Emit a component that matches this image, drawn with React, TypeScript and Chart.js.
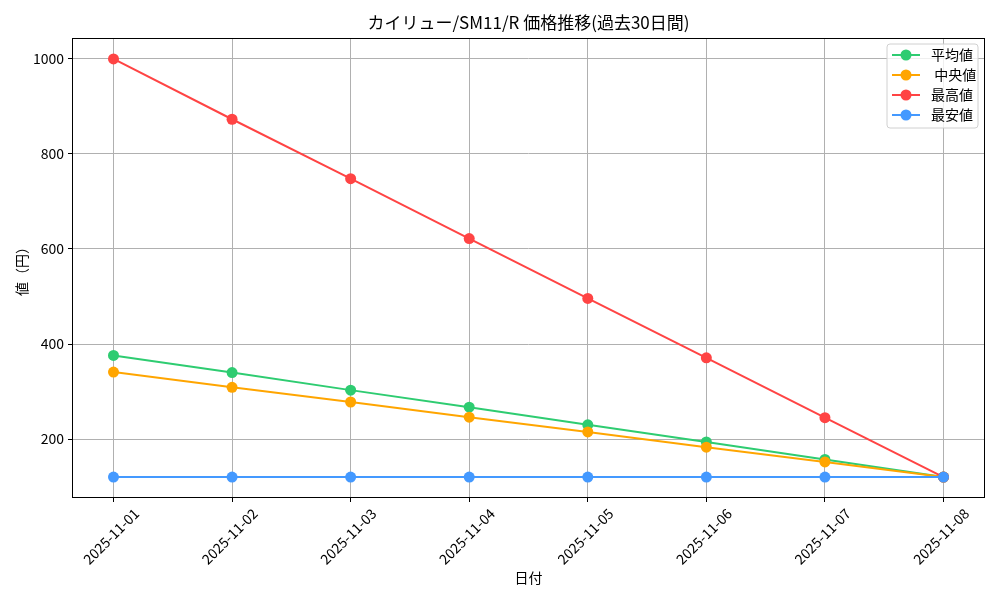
import React, { useEffect, useRef } from "react";
import { Chart, registerables } from "chart.js";

Chart.register(...registerables);

const dates = ["2025-11-01", "2025-11-02", "2025-11-03", "2025-11-04", "2025-11-05", "2025-11-06", "2025-11-07", "2025-11-08"];
const avgValues = [376, 340, 303, 267, 230, 194, 157, 120];
const medianValues = [341, 309, 278, 246, 215, 183, 152, 120];
const maxValues = [1000, 873, 748, 622, 496, 371, 245, 120];
const minValues = [120, 120, 120, 120, 120, 120, 120, 120];
const yTickValues = [200, 400, 600, 800, 1000];
const seriesLabels = ["平均値", " 中央値", "最高値", "最安値"];
const seriesColors = ["#2ecc71", "#ffa500", "#ff4444", "#4499ff"];

const FONT = "'Noto Sans CJK JP', 'Noto Sans', sans-serif";

const framePlugin = {
  id: "frame",
  afterDraw(chart: any) {
    const { ctx, chartArea } = chart;
    ctx.save();
    ctx.strokeStyle = "#000";
    ctx.lineWidth = 1;
    ctx.strokeRect(chartArea.left + 0.5, chartArea.top + 0.5, chartArea.right - chartArea.left - 1, chartArea.bottom - chartArea.top - 1);
    ctx.restore();
  },
};

const legendPlugin = {
  id: "innerLegend",
  afterDraw(chart: any) {
    const { ctx, chartArea } = chart;
    const ds = chart.data.datasets;
    const w = 91;
    const rowH = 20;
    const h = 11 + rowH * (ds.length - 1) + 13;
    const left = chartArea.right - 7 - w;
    const top = chartArea.top + 6;
    ctx.save();
    ctx.beginPath();
    const r = 3;
    ctx.moveTo(left + r, top);
    ctx.lineTo(left + w - r, top);
    ctx.quadraticCurveTo(left + w, top, left + w, top + r);
    ctx.lineTo(left + w, top + h - r);
    ctx.quadraticCurveTo(left + w, top + h, left + w - r, top + h);
    ctx.lineTo(left + r, top + h);
    ctx.quadraticCurveTo(left, top + h, left, top + h - r);
    ctx.lineTo(left, top + r);
    ctx.quadraticCurveTo(left, top, left + r, top);
    ctx.closePath();
    ctx.fillStyle = "rgba(255,255,255,0.8)";
    ctx.fill();
    ctx.strokeStyle = "#d0d0d0";
    ctx.lineWidth = 1;
    ctx.stroke();
    ds.forEach((d: any, i: number) => {
      const cy = top + 11 + i * rowH;
      ctx.strokeStyle = d.borderColor;
      ctx.lineWidth = 2;
      ctx.beginPath();
      ctx.moveTo(left + 5, cy);
      ctx.lineTo(left + 33, cy);
      ctx.stroke();
      ctx.fillStyle = d.backgroundColor;
      ctx.beginPath();
      ctx.arc(left + 19, cy, 5.5, 0, Math.PI * 2);
      ctx.fill();
      ctx.fillStyle = "#000";
      ctx.font = `14px ${FONT}`;
      ctx.textBaseline = "middle";
      ctx.textAlign = "left";
      ctx.fillText(d.label, left + 44, cy);
    });
    ctx.restore();
  },
};

export default function App() {
  const canvasRef = useRef<HTMLCanvasElement | null>(null);

  useEffect(() => {
    if (!canvasRef.current) return;
    const series = [avgValues, medianValues, maxValues, minValues];
    const chart = new Chart(canvasRef.current, {
      type: "line",
      data: {
        datasets: series.map((vals, i) => ({
          label: seriesLabels[i],
          data: vals.map((v, j) => ({ x: j, y: v })),
          borderColor: seriesColors[i],
          backgroundColor: seriesColors[i],
          pointBackgroundColor: seriesColors[i],
          pointBorderWidth: 0,
          pointRadius: 5.5,
          borderWidth: 2,
          tension: 0,
          order: 4 - i,
        })),
      },
      options: {
        responsive: false,
        animation: false,
        devicePixelRatio: 1,
        layout: { padding: { left: 0, top: 0, right: 15, bottom: 0 } },
        plugins: {
          legend: { display: false },
          tooltip: { enabled: false },
          title: {
            display: true,
            fullSize: false,
            text: "カイリュー/SM11/R 価格推移(過去30日間)",
            color: "#000",
            font: { family: FONT, size: 17, weight: "normal", lineHeight: 1 },
            padding: { top: 14, bottom: 7 },
          },
        },
        scales: {
          x: {
            type: "linear",
            min: -0.35,
            max: 7.35,
            afterFit(scale: any) {
              scale.height = 102;
            },
            afterBuildTicks(scale: any) {
              scale.ticks = dates.map((_, i) => ({ value: i }));
            },
            ticks: {
              autoSkip: false,
              minRotation: 45,
              maxRotation: 45,
              labelOffset: 23,
              padding: 3,
              color: "#000",
              font: { family: FONT, size: 14 },
              callback: (v: any) => (Number.isInteger(v) ? dates[v] : ""),
            },
            grid: { color: "#b0b0b0", lineWidth: 1, tickColor: "#000", tickLength: 4, drawTicks: true },
            border: { display: false },
            title: {
              display: true,
              text: "日付",
              color: "#000",
              font: { family: FONT, size: 14 },
              padding: { top: 0, bottom: 13.6 },
            },
          },
          y: {
            type: "linear",
            min: 76,
            max: 1044,
            afterFit(scale: any) {
              scale.width = 72;
            },
            afterBuildTicks(scale: any) {
              scale.ticks = yTickValues.map((v) => ({ value: v }));
            },
            ticks: {
              padding: 4,
              color: "#000",
              font: { family: FONT, size: 14 },
              callback: (v: any) => String(v),
            },
            grid: { color: "#b0b0b0", lineWidth: 1, tickColor: "#000", tickLength: 4, drawTicks: true },
            border: { display: false },
            title: {
              display: true,
              text: "値（円）",
              color: "#000",
              font: { family: FONT, size: 14 },
              padding: { top: 13.6, bottom: 0 },
            },
          },
        },
      },
      plugins: [framePlugin, legendPlugin],
    } as any);
    return () => chart.destroy();
  }, []);

  return (
    <div style={{ position: "absolute", left: 0, top: 0, width: 1000, height: 600, background: "#fff" }}>
      <canvas ref={canvasRef} width={1000} height={600} />
    </div>
  );
}
